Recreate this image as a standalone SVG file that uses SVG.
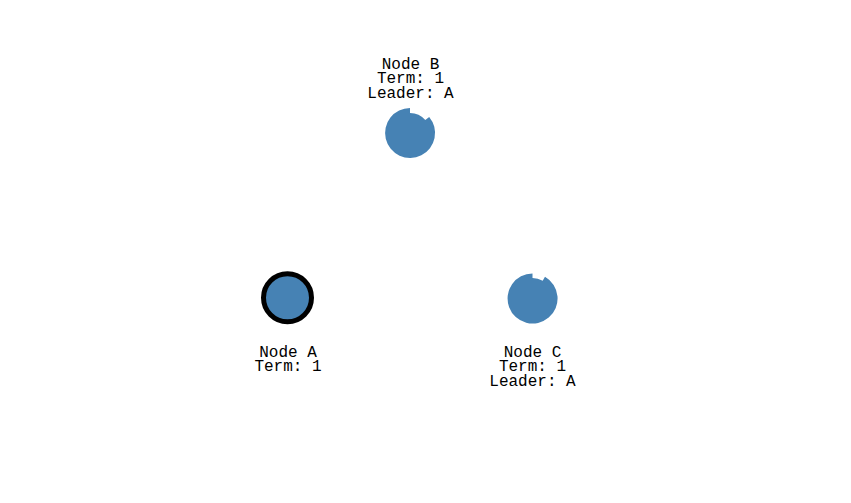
<svg xmlns="http://www.w3.org/2000/svg" width="851" height="503" viewBox="0 0 851 503">
<style>
.lbl{font-family:"Liberation Mono","DejaVu Sans Mono",monospace;font-size:16px;fill:#000;text-anchor:middle}
.body{fill:#4682b4}
</style>
<rect width="851" height="503" fill="#fff"/>
<g id="connectors"></g>
<g id="nodeB">
<path class="body" d="M410,133 L410,113 A20,20 0 0 1 425.3,120.1 L429.2,116.9 A25,25 0 1 1 410,108 Z"/>
<text class="lbl" x="410.5" y="68.5">Node B</text>
<text class="lbl" x="410.5" y="83">Term: 1</text>
<text class="lbl" x="410.5" y="97.5">Leader: A</text>
</g>
<g id="nodeA">
<circle cx="287.5" cy="297.7" r="24" fill="#4682b4" stroke="#000" stroke-width="5"/>
<text class="lbl" x="288" y="356.5">Node A</text>
<text class="lbl" x="288" y="371">Term: 1</text>
</g>
<g id="nodeC">
<path class="body" d="M532.5,298.5 L532.5,278 A20.5,20.5 0 0 1 542.7,280.7 L545,276.8 A25,25 0 1 1 532.5,273.5 Z"/>
<text class="lbl" x="532.5" y="356.5">Node C</text>
<text class="lbl" x="532.5" y="371">Term: 1</text>
<text class="lbl" x="532.5" y="385.5">Leader: A</text>
</g>
</svg>
